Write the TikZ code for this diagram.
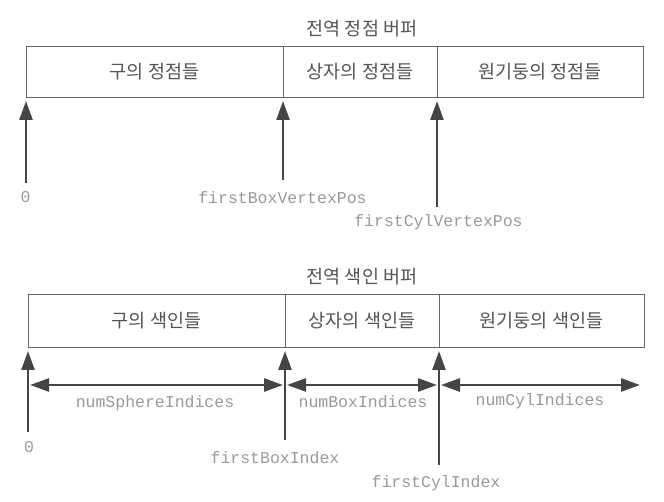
\documentclass[tikz,border=0pt]{standalone}
\usepackage{fontspec}
\usetikzlibrary{arrows.meta}
\newfontfamily\krfont{Noto Sans CJK KR}
\newfontfamily\codefont{Liberation Mono}
\definecolor{boxgray}{gray}{0.4}
\definecolor{arrowgray}{gray}{0.27}
\definecolor{textgray}{gray}{0.33}
\definecolor{codegray}{gray}{0.6}
\tikzset{
  cell/.style={draw=boxgray, line width=0.8pt, minimum height=51pt, inner sep=0pt,
    outer sep=0pt, anchor=north west, text=textgray,
    font=\krfont\fontsize{18.5}{20}\selectfont},
  buftitle/.style={text=textgray, font=\krfont\fontsize{18.5}{20}\selectfont},
  code/.style={text=codegray, inner sep=0pt, anchor=base,
    font=\codefont\fontsize{16.5}{18}\selectfont},
  ptr/.style={draw=arrowgray, line width=2.6pt,
    -{Triangle[length=19pt,width=13pt]}, shorten >=4pt},
  span/.style={draw=arrowgray, line width=2.6pt,
    {Triangle[length=19pt,width=13pt]}-{Triangle[length=19pt,width=13pt]},
    shorten >=2pt, shorten <=2pt}
}

\begin{document}
\begin{tikzpicture}[x=1pt, y=-1pt]
    \useasboundingbox (0,0) rectangle (664,502);
    % Vertex buffer
    \node[buftitle] (vtitle) at (362,29) {전역 정점 버퍼};
    \node[cell, minimum width=257pt] (sv) at (26,46) {구의 정점들};
    \node[cell, minimum width=154pt] (bv) at (sv.north east) {상자의 정점들};
    \node[cell, minimum width=206pt] (cv) at (bv.north east) {원기둥의 정점들};
    % Vertex offsets
    \node[code] (lv0) at (25.5,203) {0};
    \node[code] (lbv) at (282.5,204) {firstBoxVertexPos};
    \node[code] (lcv) at (438.5,227) {firstCylVertexPos};
    \coordinate (tv0) at (26,183);
    \coordinate (tbv) at (283,180);
    \coordinate (tcv) at (437,207);
    \draw[ptr] (tv0) -- (sv.south west);
    \draw[ptr] (tbv) -- (bv.south west);
    \draw[ptr] (tcv) -- (cv.south west);
    % Index buffer
    \node[buftitle] (ititle) at (362,277) {전역 색인 버퍼};
    \node[cell, minimum width=257pt, minimum height=53pt] (si) at (28,294) {구의 색인들};
    \node[cell, minimum width=154pt, minimum height=53pt] (bi) at (si.north east) {상자의 색인들};
    \node[cell, minimum width=205pt, minimum height=53pt] (ci) at (bi.north east) {원기둥의 색인들};
    % Index offsets
    \node[code] (li0) at (29,452) {0};
    \node[code] (lbi) at (275,463) {firstBoxIndex};
    \node[code] (lci) at (436,487) {firstCylIndex};
    \coordinate (ti0) at (28,432);
    \coordinate (tbi) at (285,440);
    \coordinate (tci) at (439,465);
    \draw[ptr] (ti0) -- (si.south west);
    \draw[ptr] (tbi) -- (bi.south west);
    \draw[ptr] (tci) -- (ci.south west);
    % Index counts
    \coordinate (spanrow) at (0,385);
    \draw[span] (si.south west |- spanrow) -- (si.south east |- spanrow);
    \draw[span] (bi.south west |- spanrow) -- (bi.south east |- spanrow);
    \draw[span] (ci.south west |- spanrow) -- ([xshift=-2pt]ci.south east |- spanrow);
    \node[code] (nsi) at (155,408) {numSphereIndices};
    \node[code] (nbi) at (363,408) {numBoxIndices};
    \node[code] (nci) at (540,406) {numCylIndices};
\end{tikzpicture}
\end{document}
